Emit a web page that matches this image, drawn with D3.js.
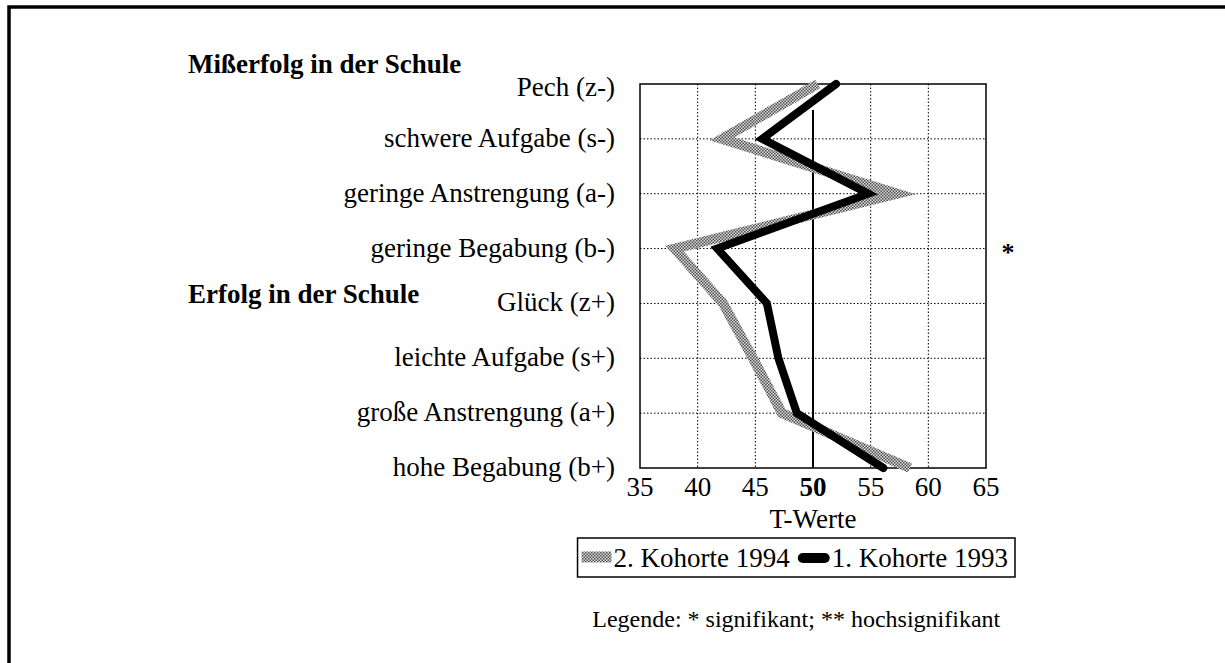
<!DOCTYPE html>
<html>
<head>
<meta charset="utf-8">
<script src="https://cdn.jsdelivr.net/npm/d3@7"></script>
<style>
  body { margin: 0; background: #fff; }
  svg text { font-family: "Liberation Serif", "Times New Roman", serif; fill: #000; }
</style>
</head>
<body>
<svg width="1225" height="663"></svg>
<script>
// Attributionsmuster, T-Werte je Kohorte
var categories = ["Pech (z-)", "schwere Aufgabe (s-)", "geringe Anstrengung (a-)", "geringe Begabung (b-)",
                  "Glück (z+)", "leichte Aufgabe (s+)", "große Anstrengung (a+)", "hohe Begabung (b+)"];
var kohorte1994 = [50.4, 42.1, 57.3, 38.0, 42.2, 44.8, 47.3, 58.4];
var kohorte1993 = [52.0, 45.6, 54.8, 41.7, 46.0, 47.0, 48.6, 56.1];
var xTicks = [35, 40, 45, 50, 55, 60, 65];
var signif = ["", "", "", "*", "", "", "", ""];
var seriesNames = ["2. Kohorte 1994", "1. Kohorte 1993"];

var svg = d3.select("svg"),
    width = +svg.attr("width"),
    height = +svg.attr("height");

var pLeft = 640, pRight = 986, pTop = 84, pBottom = 468;
var fs = "27px";

var x = d3.scaleLinear().domain([35, 65]).range([pLeft, pRight]);
var y = d3.scalePoint().domain(categories).range([pTop, pBottom]);

// outer frame (right/bottom edges run off the page)
svg.append("rect")
    .attr("x", 9).attr("y", 7)
    .attr("width", 1300).attr("height", 800)
    .attr("fill", "none").attr("stroke", "#000").attr("stroke-width", 3.5);

// dotted pattern for the grey series
var defs = svg.append("defs");
var pat = defs.append("pattern")
    .attr("id", "dots")
    .attr("width", 3).attr("height", 3)
    .attr("patternUnits", "userSpaceOnUse");
pat.append("rect").attr("width", 3).attr("height", 3).attr("fill", "#e0e0e0");
pat.append("rect").attr("width", 1.5).attr("height", 1.5).attr("fill", "#4a4a4a");
pat.append("rect").attr("x", 1.5).attr("y", 1.5).attr("width", 1.5).attr("height", 1.5).attr("fill", "#4a4a4a");

// grid
var g = svg.append("g");
g.selectAll(".vgrid")
    .data(xTicks.filter(function(d) { return d != 35 && d != 65 && d != 50; }))
    .enter().append("line")
      .attr("x1", function(d) { return x(d); })
      .attr("x2", function(d) { return x(d); })
      .attr("y1", pTop).attr("y2", pBottom)
      .attr("stroke", "#000").attr("stroke-width", 1)
      .attr("stroke-dasharray", "1.5,2");
g.selectAll(".hgrid")
    .data(categories.slice(1, -1))
    .enter().append("line")
      .attr("x1", pLeft).attr("x2", pRight)
      .attr("y1", function(d) { return y(d); })
      .attr("y2", function(d) { return y(d); })
      .attr("stroke", "#000").attr("stroke-width", 1)
      .attr("stroke-dasharray", "1.5,2");

g.append("rect")
    .attr("x", pLeft).attr("y", pTop)
    .attr("width", pRight - pLeft).attr("height", pBottom - pTop)
    .attr("fill", "none").attr("stroke", "#000").attr("stroke-width", 1.5);

// reference line at T = 50
g.append("line")
    .attr("x1", x(50)).attr("x2", x(50))
    .attr("y1", 110).attr("y2", pBottom)
    .attr("stroke", "#000").attr("stroke-width", 2);

var line = d3.line()
    .x(function(d) { return x(d.v); })
    .y(function(d) { return y(d.c); });

function pts(vals) {
  return vals.map(function(v, i) { return { c: categories[i], v: v }; });
}

svg.append("path")
    .attr("d", line(pts(kohorte1994)))
    .attr("fill", "none")
    .attr("stroke", "url(#dots)")
    .attr("stroke-width", 10)
    .attr("stroke-linejoin", "miter");

svg.append("path")
    .attr("d", line(pts(kohorte1993)))
    .attr("fill", "none")
    .attr("stroke", "#000")
    .attr("stroke-width", 8)
    .attr("stroke-linejoin", "miter")
    .attr("stroke-linecap", "round");

// category labels
svg.selectAll(".cat")
    .data(categories)
    .enter().append("text")
      .attr("x", 615)
      .attr("y", function(d, i) { return y(d) + (i == 0 ? 12 : 8); })
      .attr("text-anchor", "end")
      .style("font-size", fs)
      .text(function(d) { return d; });

svg.selectAll(".sig")
    .data(categories)
    .enter().append("text")
      .attr("x", 1008)
      .attr("y", function(d) { return y(d) + 12; })
      .attr("text-anchor", "middle")
      .style("font-size", "26px")
      .style("font-weight", "bold")
      .text(function(d, i) { return signif[i]; });

// section headings
svg.append("text").attr("x", 188).attr("y", 73)
    .style("font-size", fs).style("font-weight", "bold")
    .text("Mißerfolg in der Schule");
svg.append("text").attr("x", 188).attr("y", 303)
    .style("font-size", fs).style("font-weight", "bold")
    .text("Erfolg in der Schule");

// x axis labels
svg.selectAll(".tick")
    .data(xTicks)
    .enter().append("text")
      .attr("x", function(d) { return x(d); })
      .attr("y", 496)
      .attr("text-anchor", "middle")
      .style("font-size", fs)
      .style("font-weight", function(d) { return d == 50 ? "bold" : "normal"; })
      .text(function(d) { return d; });

svg.append("text").attr("x", x(50)).attr("y", 528)
    .attr("text-anchor", "middle")
    .style("font-size", fs)
    .text("T-Werte");

// legend, laid out from the right edge of its box
var lg = svg.append("g");
var box = lg.append("rect").attr("y", 538).attr("height", 39)
    .attr("fill", "#fff").attr("stroke", "#000").attr("stroke-width", 1.5);
var t2 = lg.append("text").attr("y", 567).style("font-size", fs).text(seriesNames[1]);
var w2 = t2.node().getComputedTextLength();
var boxRight = 1015;
var x2 = boxRight - 7 - w2;
t2.attr("x", x2);
lg.append("line").attr("x1", x2 - 29).attr("x2", x2 - 7).attr("y1", 558).attr("y2", 558)
    .attr("stroke", "#000").attr("stroke-width", 10).attr("stroke-linecap", "round");
var t1 = lg.append("text").attr("y", 567).style("font-size", fs).text(seriesNames[0]);
var w1 = t1.node().getComputedTextLength();
var x1 = x2 - 42 - w1;
t1.attr("x", x1);
lg.append("line").attr("x1", x1 - 32).attr("x2", x1 - 2).attr("y1", 557).attr("y2", 557)
    .attr("stroke", "url(#dots)").attr("stroke-width", 11);
box.attr("x", x1 - 36).attr("width", boxRight - (x1 - 36));

svg.append("text").attr("x", (x1 - 36 + boxRight) / 2).attr("y", 627)
    .attr("text-anchor", "middle")
    .style("font-size", "24px")
    .text("Legende: * signifikant; ** hochsignifikant");
</script>
</body>
</html>
